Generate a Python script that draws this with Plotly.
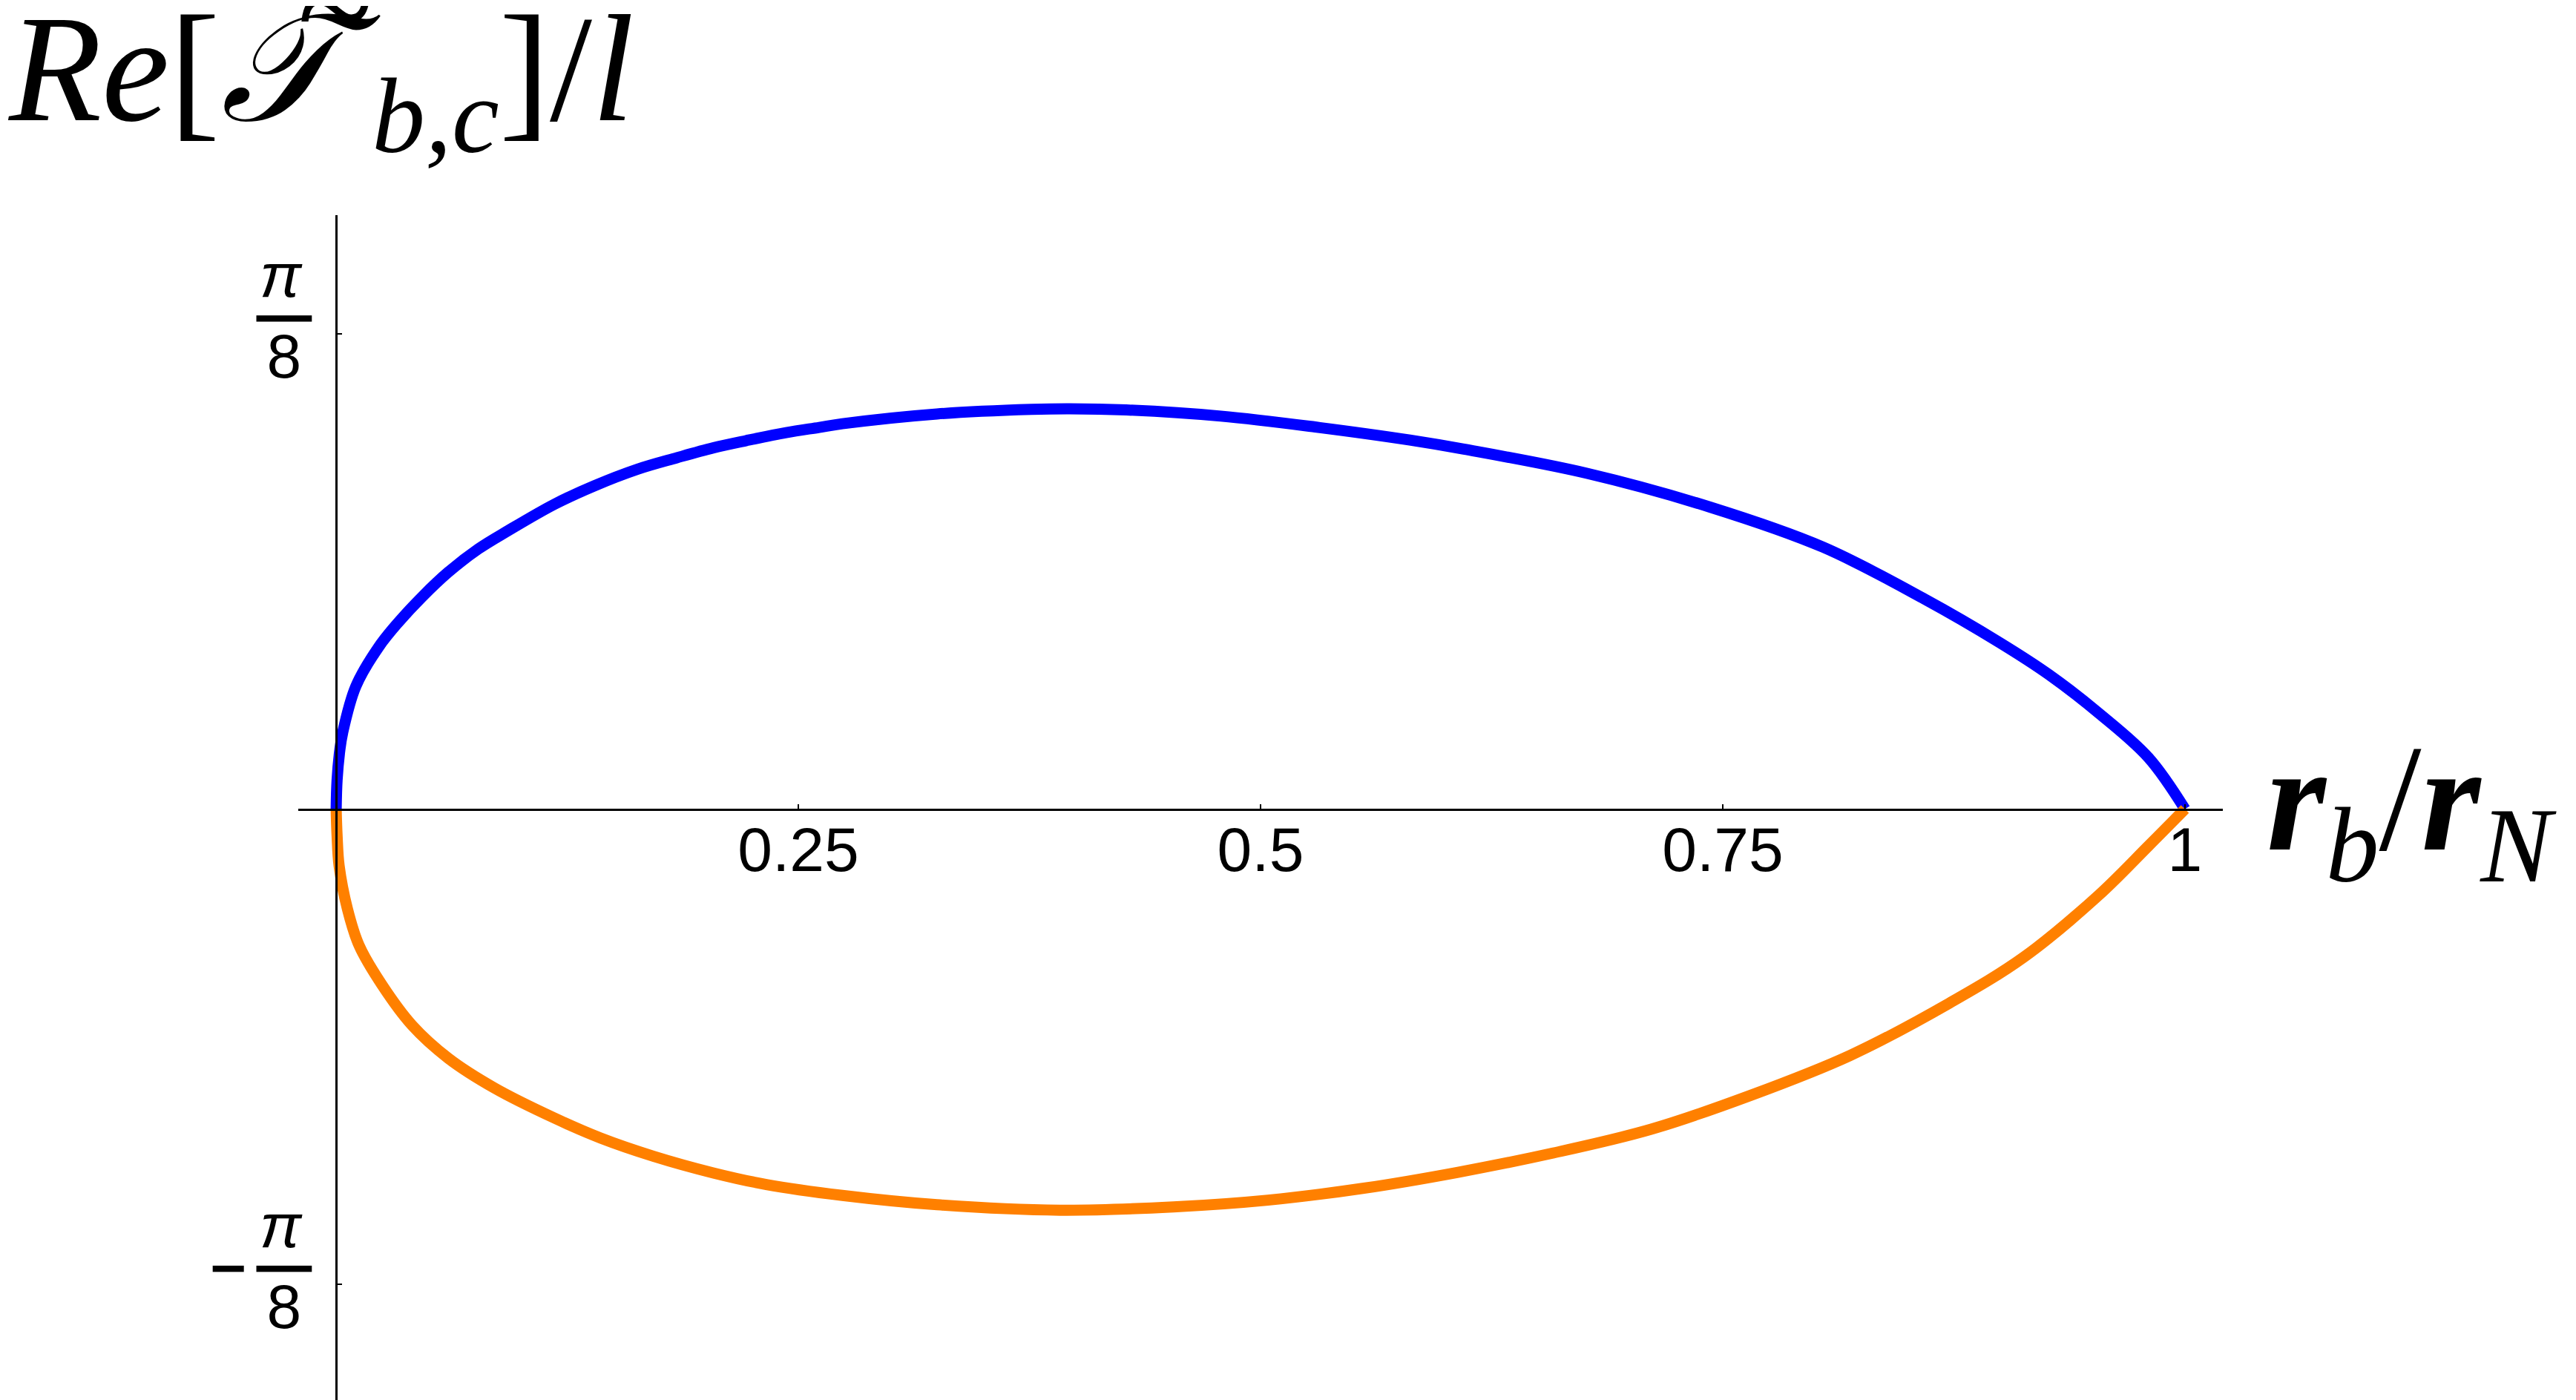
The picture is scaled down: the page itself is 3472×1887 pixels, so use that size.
import math

import plotly.graph_objects as go

# upper branch (r_b/r_N, Re[T]/l)
r_upper = [0, 0.0005, 0.002, 0.0035, 0.0106, 0.0231, 0.0339, 0.0464, 0.0607, 0.0769,
           0.093, 0.1181, 0.1395, 0.1628, 0.1843, 0.204, 0.2219, 0.2434, 0.2613, 0.2738,
           0.325, 0.3761, 0.3966, 0.4273, 0.4785, 0.5296, 0.5808, 0.61, 0.6766, 0.7431,
           0.8042, 0.8593, 0.8996, 0.9265, 0.9534, 0.9803, 1.0]
t_upper = [0, 0.024, 0.049, 0.063, 0.1013, 0.1342, 0.1548, 0.1753, 0.1959, 0.215,
           0.2301, 0.252, 0.2671, 0.2808, 0.2904, 0.2986, 0.3046, 0.3112, 0.3155, 0.3185,
           0.3266, 0.3304, 0.3309, 0.3299, 0.3248, 0.3158, 0.305, 0.2975, 0.2775, 0.2496,
           0.2165, 0.1735, 0.1378, 0.1111, 0.0793, 0.0425, 0]

# lower branch
r_lower = [0, 0.0005, 0.0016, 0.0061, 0.0124, 0.0249, 0.041, 0.0607, 0.0858, 0.1181,
           0.1431, 0.1718, 0.204, 0.2327, 0.2738, 0.325, 0.3915, 0.4529, 0.504, 0.5552,
           0.6063, 0.6575, 0.7113, 0.7651, 0.8189, 0.8727, 0.9131, 0.9534, 0.9803, 1.0]
t_lower = [0, -0.022, -0.0469, -0.0825, -0.1127, -0.1456, -0.1786, -0.206, -0.2307, -0.2554,
           -0.2719, -0.287, -0.3007, -0.3103, -0.3193, -0.327, -0.3315, -0.3288, -0.3232, -0.3135,
           -0.3003, -0.2845, -0.2646, -0.2366, -0.2036, -0.1603, -0.1221, -0.0711, -0.0304, 0]

x_ticks = [0.25, 0.5, 0.75, 1]
x_tick_labels = ["0.25", "0.5", "0.75", "1"]

HS = "\u200a\u200a"
OVER = "<span style='text-decoration:overline'>{}</span>"
num = HS + "<i>π</i>" + HS
den = OVER.format(HS + "8" + HS)
minus = OVER.format("\u2002") + "\u2009"
y_ticks = [math.pi / 8, -math.pi / 8]
y_tick_labels = [num + "<br>" + den, num + "<br>" + minus + den]

fig = go.Figure()
fig.add_trace(go.Scatter(x=r_upper, y=t_upper, mode="lines",
                         line=dict(color="#0000ff", width=15, shape="spline", smoothing=1),
                         hoverinfo="skip"))
fig.add_trace(go.Scatter(x=r_lower, y=t_lower, mode="lines",
                         line=dict(color="#ff8000", width=15, shape="spline", smoothing=1),
                         hoverinfo="skip"))

axis_style = dict(
    anchor="free", showline=True, linecolor="black", linewidth=3,
    ticks="inside", ticklen=6, tickwidth=2, tickcolor="black",
    showgrid=False, zeroline=False,
    tickfont=dict(family="Liberation Sans", size=84, color="black"),
)
fig.update_xaxes(range=[-0.0205, 1.0205], position=0.501, ticklabelstandoff=-20,
                 tickvals=x_ticks, ticktext=x_tick_labels, **axis_style)
fig.update_yaxes(range=[-0.4933, 0.4909], position=0.0197,
                 ticklabelstandoff=15, ticklabelshift=-25,
                 tickvals=y_ticks, ticktext=y_tick_labels, **axis_style)

serif = dict(family="Liberation Serif", size=205, color="black")
y_title = (
    "<i>Re</i>[<span style='letter-spacing:-55px'><i>𝒯</i></span>"
    "<sup><span style='font-size:190px'><i>~</i></span></sup>"
    "<sub><i>b,c</i></sub>]/<i>l</i>"
)
fig.add_annotation(
    xref="paper", yref="paper", x=-0.152, y=1.24, xanchor="left", yanchor="top",
    text=y_title, showarrow=False, font=serif,
)
fig.add_annotation(
    xref="paper", yref="y", x=1.022, y=0, xanchor="left", yanchor="middle",
    text="<b><i>r</i></b><sub><i>b</i></sub>/<b><i>r</i></b><sub><i>N</i></sub>",
    showarrow=False, font=serif,
)

fig.update_layout(
    width=3472, height=1887, autosize=False,
    margin=dict(l=394, r=484, t=282, b=0, pad=0),
    paper_bgcolor="white", plot_bgcolor="white",
    showlegend=False,
)

fig.write_html("out.html", config={"displayModeBar": False})
